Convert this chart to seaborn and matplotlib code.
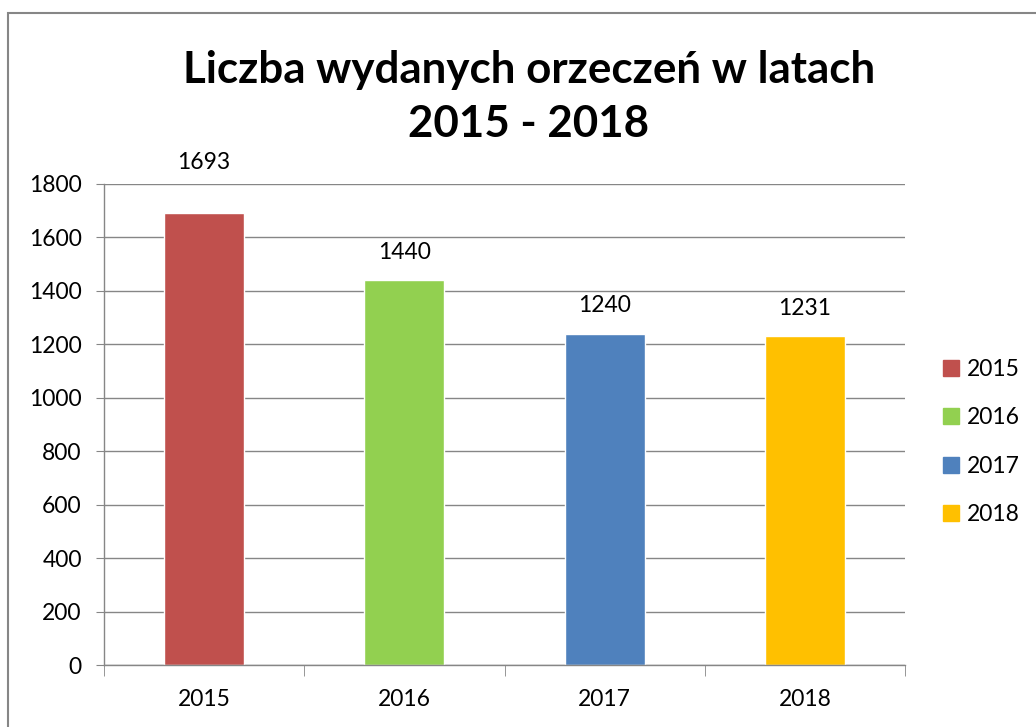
import pandas as pd
import matplotlib.pyplot as plt
import seaborn as sns
from matplotlib.patches import Rectangle
from matplotlib.lines import Line2D

# Data
years = ['2015', '2016', '2017', '2018']
counts = [1693, 1440, 1240, 1231]
colors = ['#C0504D', '#92D050', '#4F81BD', '#FFC000']
label_offsets = [50, 28, 28, 28]  # px above bar top

df = pd.DataFrame({'rok': years, 'liczba': counts})

sns.set_style('white')
plt.rcParams['font.family'] = ['Lato', 'DejaVu Sans']

fig = plt.figure(figsize=(10.36, 7.27), dpi=100)
ax = fig.add_axes([104 / 1036, 1 - 665 / 727, (905 - 104) / 1036, (665 - 184) / 727])

sns.barplot(data=df, x='rok', y='liczba', hue='rok', palette=colors,
            width=0.4, dodge=False, legend=False, ax=ax, saturation=1)

ax.set_ylim(0, 1800)
ax.set_xlim(-0.5, 3.5)
ax.set_yticks(range(0, 1801, 200))
ax.yaxis.grid(True, color='#868686', linewidth=1)
ax.set_axisbelow(True)
ax.set_xlabel('')
ax.set_ylabel('')

for s in ['top', 'right']:
    ax.spines[s].set_visible(False)
for s in ['left', 'bottom']:
    ax.spines[s].set_color('#868686')
    ax.spines[s].set_linewidth(1)

fs = 16.5
ax.tick_params(axis='y', left=True, length=6, color='#868686', labelsize=fs, pad=10, labelcolor='black')
ax.tick_params(axis='x', bottom=False, labelsize=fs, pad=14, labelcolor='black')
# category boundary ticks on the x axis
ax.set_xticks([-0.5, 0.5, 1.5, 2.5, 3.5], minor=True)
ax.tick_params(axis='x', which='minor', bottom=True, length=8, color='#868686', direction='out')

for i, (v, off) in enumerate(zip(counts, label_offsets)):
    ax.annotate(str(v), (i, v), xytext=(0, off * 0.72), textcoords='offset points',
                ha='center', va='center', fontsize=fs, color='black')

fig.text(529 / 1036, 1 - 97 / 727, 'Liczba wydanych orzeczeń w latach\n2015 - 2018',
         ha='center', va='center', fontsize=31.6, fontweight='bold', linespacing=1.42,
         color='black')

handles = [Line2D([], [], marker='s', linestyle='', markersize=11,
                  markerfacecolor=c, markeredgecolor=c) for c in colors]
fig.legend(handles, years, loc='center left', bbox_to_anchor=(928 / 1036, 1 - 442 / 727),
           frameon=False, fontsize=fs, handletextpad=0.1, labelspacing=1.2,
           handlelength=1.2, borderaxespad=0, labelcolor='black')

# outer chart frame
fig.patches.append(Rectangle((8 / 1036, -0.01), 1.05, 1 - 13 / 727 + 0.01,
                             transform=fig.transFigure, fill=False,
                             edgecolor='#868686', linewidth=1.5))

fig.savefig('out.png', dpi=100)
